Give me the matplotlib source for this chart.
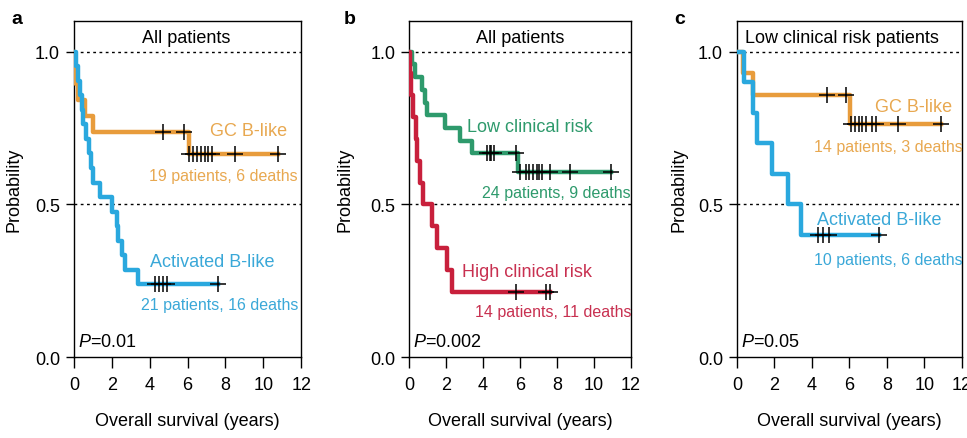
import matplotlib
matplotlib.use('Agg')
import matplotlib.pyplot as plt
import numpy as np

plt.rcParams['font.family'] = ['Liberation Sans Narrow', 'DejaVu Sans Condensed', 'Liberation Sans', 'DejaVu Sans']
plt.rcParams['mathtext.fontset'] = 'custom'
plt.rcParams['mathtext.rm'] = 'Liberation Sans'
plt.rcParams['mathtext.it'] = 'Liberation Sans:italic'

# panel a: all patients, GC B-like vs activated B-like
a_gc_t = [0, 0.05, 0.1, 0.2, 0.6, 1.0, 6.05]
a_gc_s = [1.0, 0.947, 0.895, 0.842, 0.789, 0.737, 0.663]
a_gc_cens = [4.7, 5.8, 6.1, 6.3, 6.5, 6.7, 6.9, 7.1, 7.3, 8.5, 10.8]
a_ab_t = [0, 0.1, 0.2, 0.3, 0.4, 0.5, 0.65, 0.8, 0.9, 1.0, 1.4, 2.0, 2.25, 2.3, 2.55, 2.7, 3.4]
a_ab_s = [1.0, 0.952, 0.905, 0.857, 0.810, 0.762, 0.714, 0.667, 0.619, 0.571,
          0.524, 0.476, 0.429, 0.381, 0.333, 0.286, 0.238]
a_ab_cens = [4.3, 4.5, 4.7, 4.9, 7.6]

# panel b: all patients, low vs high clinical risk
b_low_t = [0, 0.15, 0.3, 0.7, 0.85, 0.95, 1.95, 2.75, 3.4, 5.9]
b_low_s = [1.0, 0.958, 0.917, 0.875, 0.833, 0.792, 0.750, 0.708, 0.667, 0.606]
b_low_cens = [4.2, 4.35, 4.45, 4.6, 5.8, 6.0, 6.3, 6.5, 6.7, 6.9, 7.0, 7.2, 7.6, 8.7, 10.9]
b_high_t = [0, 0.05, 0.12, 0.2, 0.35, 0.43, 0.6, 0.76, 1.24, 1.5, 2.05, 2.3]
b_high_s = [1.0, 0.929, 0.857, 0.786, 0.714, 0.643, 0.571, 0.5, 0.429, 0.357, 0.286, 0.214]
b_high_cens = [5.8, 7.4, 7.6]

# panel c: low clinical risk patients
c_gc_t = [0, 0.35, 0.85, 6.05]
c_gc_s = [1.0, 0.929, 0.857, 0.762]
c_gc_cens = [4.8, 5.8, 6.1, 6.3, 6.5, 6.7, 6.9, 7.2, 7.4, 8.6, 10.9]
c_ab_t = [0, 0.4, 0.85, 1.1, 1.9, 2.75, 3.4]
c_ab_s = [1.0, 0.9, 0.8, 0.7, 0.6, 0.5, 0.4]
c_ab_cens = [4.35, 4.6, 4.9, 7.6]

ORANGE = '#e89c3c'
BLUE = '#2aa8de'
GREEN = '#2e9a6c'
RED = '#c8203c'


def km(ax, t, s, cens, color):
    t = list(t)
    s = list(s)
    end = max(max(cens), t[-1])
    ax.step(t + [end], s + [s[-1]], where='post', color=color, lw=3.2, zorder=3)
    idx = np.searchsorted(t, cens, side='right') - 1
    ys = np.array(s)[idx]
    ax.plot(cens, ys, ls='none', marker='+', ms=11, mew=1.1, color='black', zorder=4)


def setup(ax, title, tx, pval, ylab_x):
    ax.set_xlim(0, 12)
    ax.set_ylim(0, 1.1)
    ax.set_xticks(range(0, 13, 2))
    ax.set_yticks([0, 0.5, 1.0])
    ax.set_yticklabels(['0.0', '0.5', '1.0'])
    ax.tick_params(direction='out', length=6, width=1, labelsize=13, pad=4)
    ax.tick_params(axis='x', length=8, pad=6)
    for y in (0.5, 1.0):
        ax.axhline(y, color='black', lw=1, ls=(0, (2, 2.5)), zorder=1)
    for sp in ax.spines.values():
        sp.set_linewidth(1)
    ax.text(tx, 1.046, title, ha='center', va='center', fontsize=13)
    ax.text(0.2, 0.05, r'$P$=' + pval, ha='left', va='center', fontsize=13)
    ax.set_xlabel('Overall survival (years)', fontsize=13)
    ax.xaxis.set_label_coords(0.5, -0.165)
    ax.set_ylabel('Probability', fontsize=13)
    ax.yaxis.set_label_coords(ylab_x, 0.5)


fig = plt.figure(figsize=(9.67, 4.39), dpi=100)
ax_a = fig.add_axes([0.0765, 0.1845, 0.235, 0.7654])
ax_b = fig.add_axes([0.423, 0.1845, 0.2296, 0.7654])
ax_c = fig.add_axes([0.762, 0.1845, 0.2327, 0.7654])

km(ax_a, a_gc_t, a_gc_s, a_gc_cens, ORANGE)
km(ax_a, a_ab_t, a_ab_s, a_ab_cens, BLUE)
setup(ax_a, 'All patients', 5.9, '0.01', -0.225)
ax_a.text(9.2, 0.74, 'GC B-like', color='#e8a850', ha='center', va='center', fontsize=13)
ax_a.text(7.9, 0.595, '19 patients, 6 deaths', color='#e8a850', ha='center', va='center', fontsize=11.5)
ax_a.text(7.3, 0.314, 'Activated B-like', color='#3aa8d8', ha='center', va='center', fontsize=13)
ax_a.text(7.7, 0.173, '21 patients, 16 deaths', color='#3aa8d8', ha='center', va='center', fontsize=11.5)

km(ax_b, b_low_t, b_low_s, b_low_cens, GREEN)
km(ax_b, b_high_t, b_high_s, b_high_cens, RED)
setup(ax_b, 'All patients', 6.0, '0.002', -0.25)
ax_b.text(6.55, 0.755, 'Low clinical risk', color=GREEN, ha='center', va='center', fontsize=13)
ax_b.text(7.95, 0.54, '24 patients, 9 deaths', color=GREEN, ha='center', va='center', fontsize=11.5)
ax_b.text(6.4, 0.28, 'High clinical risk', color='#c83050', ha='center', va='center', fontsize=13)
ax_b.text(7.8, 0.15, '14 patients, 11 deaths', color='#c83050', ha='center', va='center', fontsize=11.5)

km(ax_c, c_gc_t, c_gc_s, c_gc_cens, ORANGE)
km(ax_c, c_ab_t, c_ab_s, c_ab_cens, BLUE)
setup(ax_c, 'Low clinical risk patients', 5.6, '0.05', -0.22)
ax_c.text(9.4, 0.82, 'GC B-like', color='#e8a850', ha='center', va='center', fontsize=13)
ax_c.text(8.1, 0.69, '14 patients, 3 deaths', color='#e8a850', ha='center', va='center', fontsize=11.5)
ax_c.text(7.6, 0.45, 'Activated B-like', color='#3aa8d8', ha='center', va='center', fontsize=13)
ax_c.text(8.1, 0.32, '10 patients, 6 deaths', color='#3aa8d8', ha='center', va='center', fontsize=11.5)

for lab, x in (('a', 0.012), ('b', 0.355), ('c', 0.697)):
    fig.text(x, 0.955, lab, fontsize=14, fontweight='bold', ha='left', va='center',
             family=['Liberation Sans', 'DejaVu Sans'])

fig.savefig('out.png', dpi=100)
